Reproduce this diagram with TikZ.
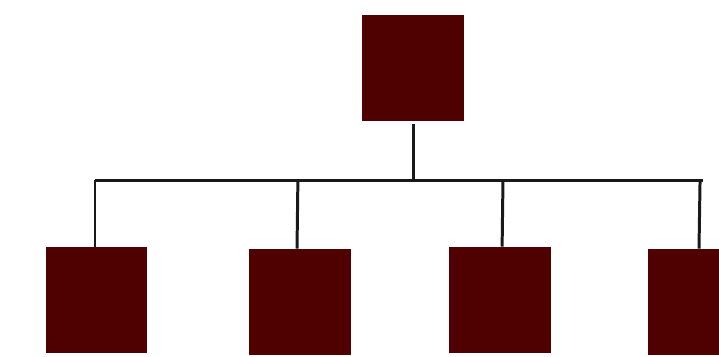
\documentclass[tikz,border=0pt]{standalone}
\usepackage{xcolor}
\usetikzlibrary{positioning,calc}

\definecolor{boxred}{HTML}{4F0000}

\begin{document}
\begin{tikzpicture}[
        x=0.02cm, y=-0.02cm,
        unit/.style={draw=none, fill=boxred, minimum width=2.04cm, minimum height=2.12cm, inner sep=0pt},
        link/.style={draw=black!90, line width=1.7pt}
    ]

    % fixed frame of the picture
    \useasboundingbox (0,0) rectangle (719,356);

    % ==========================================
    % Top unit
    % ==========================================
    \node[unit] (head) at (413, 68) {};

    % ==========================================
    % Bottom units (right one runs off the page)
    % ==========================================
    \node[unit] (sub_a) at (96.5, 300) {};
    \node[unit] (sub_b) at (300, 302) {};
    \node[unit] (sub_c) at (500, 300) {};
    \node[unit] (sub_d) at (699, 302) {};

    % ==========================================
    % Bus line and drops
    % ==========================================
    \coordinate (bus_l) at (95, 180);
    \coordinate (bus_r) at (703, 180);

    \draw[link] ([yshift=-1.7pt]head.south) -- (head.south |- bus_l);
    \draw[link] (bus_l) -- (bus_r);
    \draw[link] (bus_l) -- (sub_a.north -| bus_l);
    \draw[link] ([xshift=-1.2pt]sub_b.north |- bus_l) -- ([xshift=-1.7pt]sub_b.north);
    \draw[link] ([xshift=1.7pt]sub_c.north |- bus_l) -- ([xshift=1.2pt]sub_c.north);
    \draw[link] ([xshift=0.6pt]sub_d.north |- bus_l) -- (sub_d.north);

\end{tikzpicture}
\end{document}
